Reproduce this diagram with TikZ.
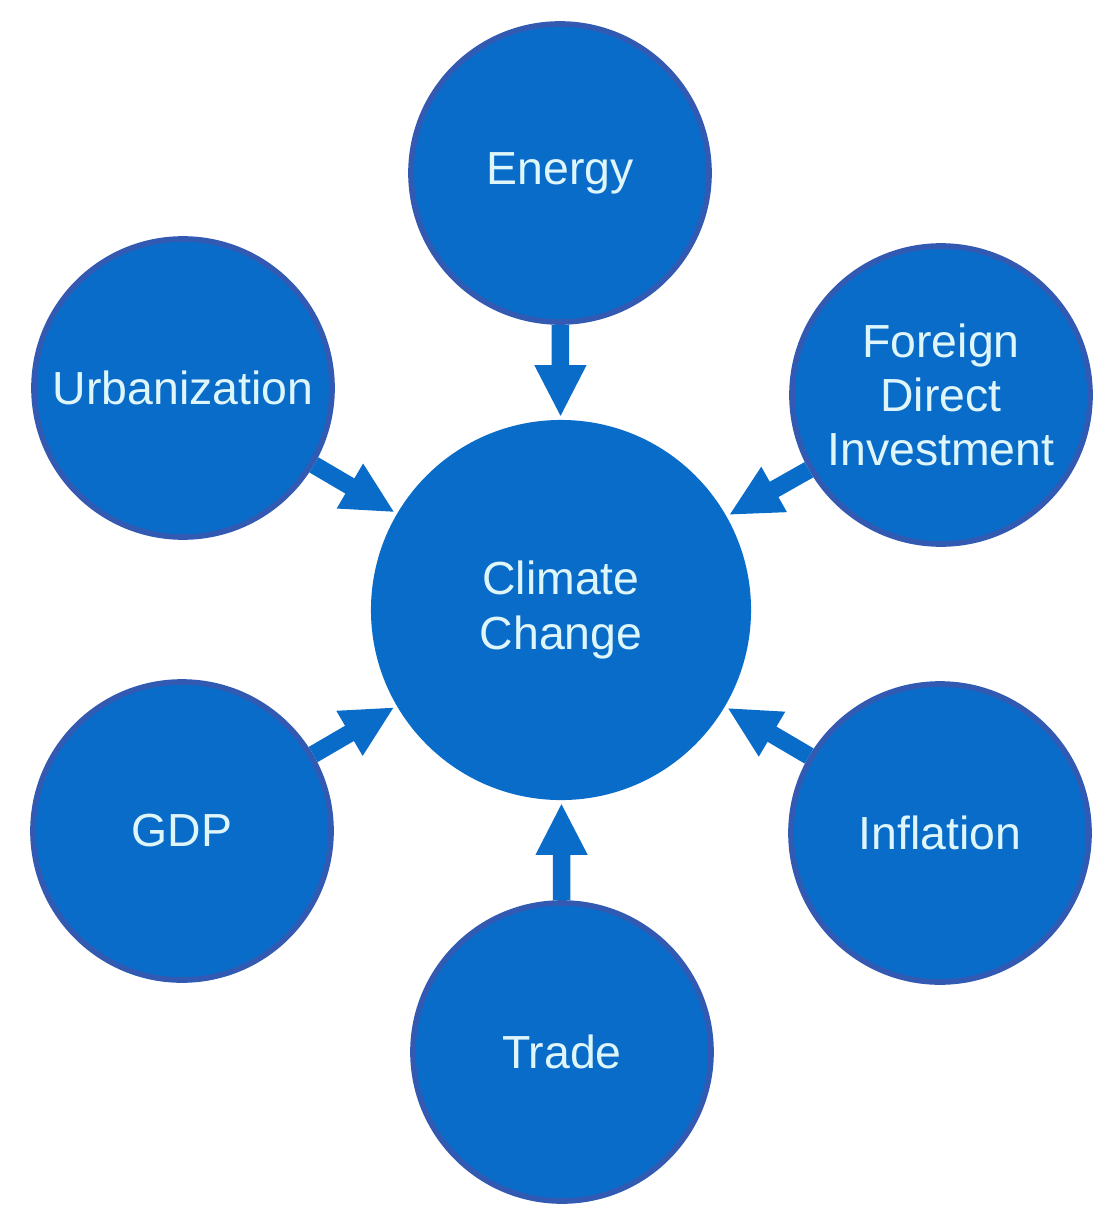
\documentclass[tikz,border=0pt]{standalone}
\usepackage{fontspec}
\setmainfont{Liberation Sans}
\usetikzlibrary{arrows.meta}
\definecolor{discblue}{RGB}{8,108,200}
\definecolor{rimblue}{RGB}{50,90,178}
\definecolor{inkcyan}{RGB}{222,246,250}

\begin{document}
\begin{tikzpicture}[x=0.025cm, y=-0.025cm,
  disc/.style={circle, fill=discblue, draw=rimblue, line width=0.14cm, minimum size=7.45cm,
    inner sep=0pt, text=inkcyan, align=center, font=\fontsize{33}{38.5}\selectfont},
  hub/.style={disc, draw=none, minimum size=9.5cm},
  feed/.style={draw=discblue, line width=0.44cm, -{Triangle[width=1.2cm,length=1.3cm]}}]
  \fill[white] (0,0) rectangle (1113,1224);
  \useasboundingbox (0,0) rectangle (1113,1224);

  \node[hub] (cc) at (561,610) {Climate\\Change};
  \node[disc] (energy) at (560,173) {Energy};
  \node[disc] (urban) at (183,388) {Urbanization};
  \node[disc] (fdi) at (941,395) {Foreign\\Direct\\Investment};
  \node[disc] (gdp) at (182,831) {GDP};
  \node[disc] (infl) at (940,833) {Inflation};
  \node[disc] (trade) at (562,1052) {Trade};

  \foreach \n in {energy,urban,fdi,gdp,infl,trade}
    \draw[feed] (\n) -- (cc);
\end{tikzpicture}
\end{document}
